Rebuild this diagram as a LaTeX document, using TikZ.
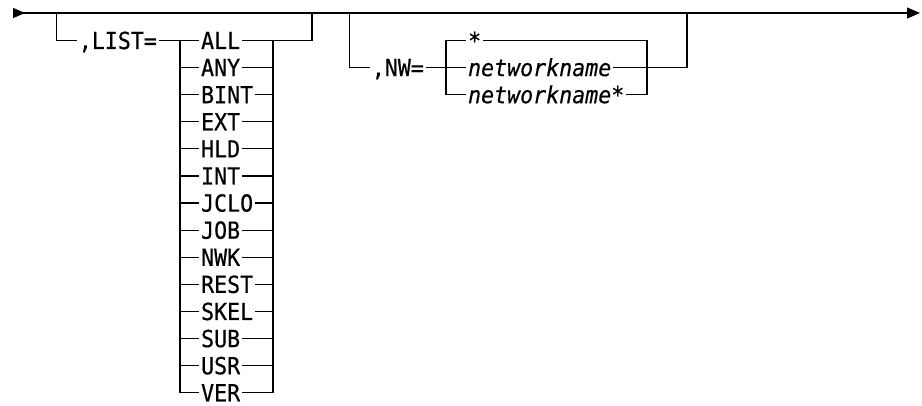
\documentclass[tikz,border=0pt]{standalone}
\usepackage{fontspec}
\setmonofont[FakeStretch=0.92,FakeBold=0.5]{DejaVu Sans Mono}
\usetikzlibrary{arrows.meta,positioning}

\begin{document}
\begin{tikzpicture}[x=1pt,y=-1pt,node distance=27.1pt,line width=1.2pt,
    every node/.append style={font=\ttfamily\fontsize{23.5}{23.5}\selectfont,inner sep=0pt,text height=17pt,text depth=0pt},
    opt/.style={anchor=west,inner xsep=1.5pt},
    kw/.style={inner xsep=1.5pt},
    var/.style={opt,font=\ttfamily\itshape\fontsize{23.5}{23.5}\selectfont}]
    \useasboundingbox (0,0) rectangle (922,406);

    % main line
    \coordinate (start) at (13,13);
    \coordinate (end) at (920,13);
    \draw[{Triangle[reversed,length=12pt,width=10pt]}-{Triangle[length=13pt,width=11pt]}] (start) -- (end);

    % LIST= choices
    \node [opt] (ALL) at (199,40.5) {ALL};
    \node [opt, below=of ALL.west, anchor=west] (ANY) {ANY};
    \node [opt, below=of ANY.west, anchor=west] (BINT) {BINT};
    \node [opt, below=of BINT.west, anchor=west] (EXT) {EXT};
    \node [opt, below=of EXT.west, anchor=west] (HLD) {HLD};
    \node [opt, below=of HLD.west, anchor=west] (INT) {INT};
    \node [opt, below=of INT.west, anchor=west] (JCLO) {JCLO};
    \node [opt, below=of JCLO.west, anchor=west] (JOB) {JOB};
    \node [opt, below=of JOB.west, anchor=west] (NWK) {NWK};
    \node [opt, below=of NWK.west, anchor=west] (REST) {REST};
    \node [opt, below=of REST.west, anchor=west] (SKEL) {SKEL};
    \node [opt, below=of SKEL.west, anchor=west] (SUB) {SUB};
    \node [opt, below=of SUB.west, anchor=west] (USR) {USR};
    \node [opt, below=of USR.west, anchor=west] (VER) {VER};
    \node [kw, left=40pt of ALL] (list) {,LIST=};
    \coordinate [left=20pt of list] (listin);
    \coordinate [left=19pt of ALL] (lv);
    \coordinate [right=74pt of ALL.west] (rv);
    \coordinate [right=113pt of ALL.west] (rb);

    \draw (listin |- start) -- (listin) -- (list);
    \draw (list) -- (ALL) -- (rb |- ALL) -- (rb |- start);
    \draw (lv) -- (lv |- VER) -- (VER);
    \draw (VER) -- (rv |- VER) -- (rv);
    \path (ANY) edge (lv |- ANY) edge (rv |- ANY)
          (BINT) edge (lv |- BINT) edge (rv |- BINT)
          (EXT) edge (lv |- EXT) edge (rv |- EXT)
          (HLD) edge (lv |- HLD) edge (rv |- HLD)
          (INT) edge (lv |- INT) edge (rv |- INT)
          (JCLO) edge (lv |- JCLO) edge (rv |- JCLO)
          (JOB) edge (lv |- JOB) edge (rv |- JOB)
          (NWK) edge (lv |- NWK) edge (rv |- NWK)
          (REST) edge (lv |- REST) edge (rv |- REST)
          (SKEL) edge (lv |- SKEL) edge (rv |- SKEL)
          (SUB) edge (lv |- SUB) edge (rv |- SUB)
          (USR) edge (lv |- USR) edge (rv |- USR);

    % NW= choices
    \node [opt] (star) at (466,40.5) {*};
    \node [var, below=of star.west, anchor=west] (net) {networkname};
    \node [var, below=of net.west, anchor=west] (netall) {networkname*};
    \node [kw, left=40pt of net] (nw) {,NW=};
    \coordinate [left=20pt of nw] (nwin);
    \coordinate [left=20pt of star] (nlv);
    \coordinate [right=181pt of star.west] (nrv);
    \coordinate [right=221pt of star.west] (nrb);

    \draw (nwin |- start) -- (nwin) -- (nw);
    \draw (nw) -- (net) -- (nrb |- net) -- (nrb |- start);
    \draw (star) -- (nlv) -- (nlv |- netall) -- (netall);
    \draw (star) -- (nrv |- star) -- (nrv |- netall) -- (netall);
\end{tikzpicture}
\end{document}
